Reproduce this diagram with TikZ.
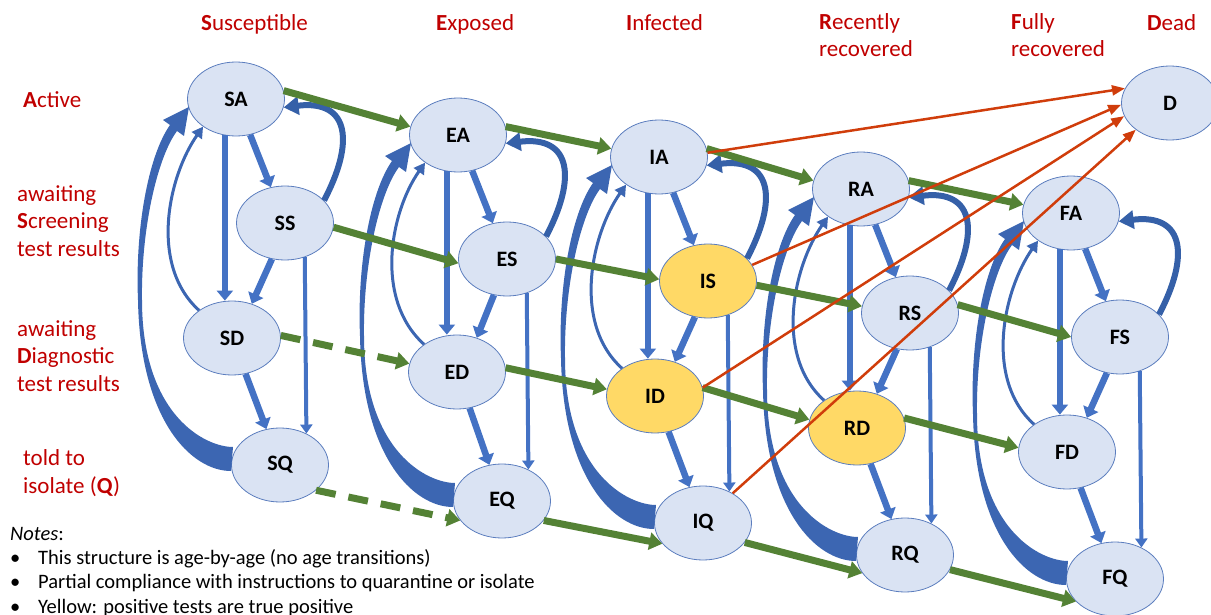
\documentclass[tikz,border=0pt]{standalone}
\usepackage{fontspec}
\setmainfont{Carlito}
\usetikzlibrary{shapes.geometric,arrows.meta}

\definecolor{nodefill}{HTML}{DAE3F3}
\definecolor{nodeline}{HTML}{5B7DBE}
\definecolor{posfill}{HTML}{FFD966}
\definecolor{moveblue}{HTML}{4472C4}
\definecolor{loopblue}{HTML}{3C66B2}
\definecolor{sideblue}{HTML}{3560A8}
\definecolor{flowgreen}{HTML}{548235}
\definecolor{deathred}{HTML}{D03D0B}
\definecolor{titlered}{HTML}{C00000}

% curved arrows back to the active state: #1 = Q, #2 = D, #3 = S, #4 = A
\newcommand{\returns}[4]{%
  \fill[loopblue] ([shift={(-47,18)}]#1.center)
    .. controls +(-28,0) and +(0,-115) .. ([shift={(-94,-201)}]#4.center)
    .. controls +(-1,70) and +(-20,-27) .. ([shift={(-59,-32)}]#4.center)
    -- ([shift={(-52,-37)}]#4.center) -- ([shift={(-47,-8)}]#4.center)
    -- ([shift={(-73,-21)}]#4.center) -- ([shift={(-66,-26)}]#4.center)
    .. controls +(-22,-31) and +(-3,70) .. ([shift={(-98,-201)}]#4.center)
    .. controls +(2,-120) and +(-40,0) .. ([shift={(-49,-6)}]#1.center) -- cycle;
  \draw[thinback] (#2.140) .. controls +(-50,45) and +(-35,-50) .. (#4.-140);
  \draw[sideback] (#3.30) .. controls +(30,57) and +(67,8) .. (#4.-10);
}
% arrows down one column: #1 = A, #2 = S, #3 = D, #4 = Q
\newcommand{\drops}[4]{%
  \draw[move] (#1) -- (#2);
  \draw[move] (#1.-107) -- (#1.-107 |- #3.north);
  \draw[move] (#2.-110) -- (#3.60);
  \draw[jump] (#2.-60) -- (#4.50);
  \draw[move] (#3) -- (#4);
}

\begin{document}
\begin{tikzpicture}[x=1pt, y=1pt,
        state/.style = {ellipse, draw=nodeline, line width=0.8pt, fill=nodefill,
                        minimum width=97pt, minimum height=74pt, inner sep=0pt,
                        font=\bfseries\fontsize{22}{22}\selectfont},
        positive/.style = {state, fill=posfill},
        heading/.style = {anchor=base west, inner sep=0pt, align=left, text=titlered,
                          font=\fontsize{23}{27.5}\selectfont},
        notes/.style = {anchor=base west, inner sep=0pt, align=left,
                        font=\fontsize{20.5}{24.2}\selectfont},
        move/.style = {draw=moveblue, line width=6.5pt, -{Triangle[length=10pt,width=16pt]}},
        jump/.style = {draw=moveblue, line width=4pt, -{Triangle[length=9pt,width=12pt]}},
        flow/.style = {draw=flowgreen, line width=7pt, -{Triangle[length=13pt,width=17pt]}},
        flowdash/.style = {flow, dash pattern=on 20pt off 13pt},
        death/.style = {draw=deathred, line width=2.5pt, -{Triangle[length=13pt,width=10pt]}},
        thinback/.style = {draw=loopblue, line width=3pt, -{Triangle[length=11pt,width=12pt]}},
        sideback/.style = {draw=sideblue, line width=6pt, -{Triangle[length=15pt,width=18pt]}}]
    \useasboundingbox (0,0) rectangle (1211,-615);

    % headings (multi-line texts sit on their last line)
    \node[heading] (sus) at (201,-31) {\textbf{S}usceptible};
    \node[heading] (exp) at (436,-31) {\textbf{E}xposed};
    \node[heading] (inf) at (626,-31) {\textbf{I}nfected};
    \node[heading] (rec) at (819,-57) {\textbf{R}ecently\\recovered};
    \node[heading] (ful) at (1011,-57) {\textbf{F}ully\\recovered};
    \node[heading] (dead) at (1147,-31) {\textbf{D}ead};
    \node[heading] (act) at (23,-108) {\textbf{A}ctive};
    \node[heading] (scr) at (17,-256) {awaiting\\\textbf{S}creening\\test results};
    \node[heading] (dia) at (17,-391) {awaiting\\\textbf{D}iagnostic\\test results};
    \node[heading] (iso) at (23,-493) {told to\\isolate (\textbf{Q})};
    \node[notes] (note) at (10,-613) {\textit{Notes}:\\
        \makebox[28pt][l]{•}This structure is age-by-age (no age transitions)\\
        \makebox[28pt][l]{•}Partial compliance with instructions to quarantine or isolate\\
        \makebox[28pt][l]{•}Yellow: positive tests are true positive};

    % states
    \node[state] (SA) at (236,-99) {SA};
    \node[state] (SS) at (285,-223) {SS};
    \node[state] (SD) at (232,-338) {SD};
    \node[state] (SQ) at (280,-465) {SQ};
    \node[state] (EA) at (458,-135) {EA};
    \node[state] (ES) at (507,-259) {ES};
    \node[state] (ED) at (457,-372) {ED};
    \node[state] (EQ) at (502,-501) {EQ};
    \node[state] (IA) at (659,-157) {IA};
    \node[positive] (IS) at (708,-281) {IS};
    \node[positive] (ID) at (655,-396) {ID};
    \node[state] (IQ) at (703,-523) {IQ};
    \node[state] (RA) at (861,-189) {RA};
    \node[state] (RS) at (910,-313) {RS};
    \node[positive] (RD) at (857,-428) {RD};
    \node[state] (RQ) at (905,-555) {RQ};
    \node[state] (FA) at (1071,-213) {FA};
    \node[state] (FS) at (1120,-337) {FS};
    \node[state] (FD) at (1067,-452) {FD};
    \node[state] (FQ) at (1115,-579) {FQ};
    \node[state] (D) at (1170,-103) {D};

    % within each column
    \returns{SQ}{SD}{SS}{SA}
    \returns{EQ}{ED}{ES}{EA}
    \returns{IQ}{ID}{IS}{IA}
    \returns{RQ}{RD}{RS}{RA}
    \returns{FQ}{FD}{FS}{FA}
    \drops{SA}{SS}{SD}{SQ}
    \drops{EA}{ES}{ED}{EQ}
    \drops{IA}{IS}{ID}{IQ}
    \drops{RA}{RS}{RD}{RQ}
    \drops{FA}{FS}{FD}{FQ}

    % infection and recovery
    \draw[flow] (SA.10) -- (EA.170);
    \draw[flow] (EA.10) -- (IA.170);
    \draw[flow] (IA.10) -- (RA.170);
    \draw[flow] (RA.10) -- (FA.170);
    \draw[flow] (SS.-5) -- (ES.185);
    \draw[flow] (ES.0) -- (IS.178);
    \draw[flow] (IS.-5) -- (RS.172);
    \draw[flow] (RS.10) -- (FS.180);
    \draw[flowdash] (SD.3) -- (ED.170);
    \draw[flow] (ED.5) -- (ID.172);
    \draw[flow] (ID.10) -- (RD.170);
    \draw[flow] (RD.12) -- (FD.175);
    \draw[flowdash] (SQ.-35) -- (EQ.205);
    \draw[flow] (EQ.-25) -- (IQ.207);
    \draw[flow] (IQ.-25) -- (RQ.203);
    \draw[flow] (RQ.-18) -- (FQ.210);

    % deaths
    \draw[death] (IA.5) -- (D.162);
    \draw[death] (IS.20) -- (D.182);
    \draw[death] (ID.10) -- (D.196);
    \draw[death] (IQ.45) -- (D.218);
\end{tikzpicture}
\end{document}
